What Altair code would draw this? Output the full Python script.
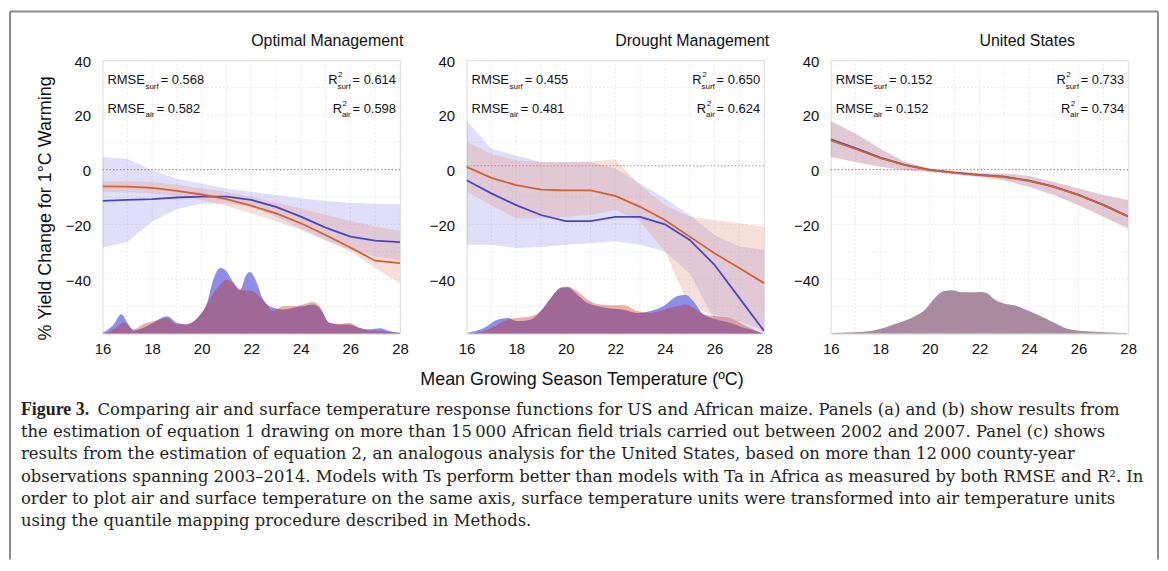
import altair as alt
import pandas as pd

# ---------------- data ----------------
X_STEPS = [16, 17, 18, 19, 20, 21, 22, 23, 24, 25, 26, 27, 28]
X_TICKS = [16, 18, 20, 22, 24, 26, 28]
Y_TICKS = [-40, -20, 0, 20, 40]
X_GRID = [16, 17, 18, 19, 20, 21, 22, 23, 24, 25, 26, 27, 28]
Y_GRID = [-50, -40, -30, -20, -10, 10, 20, 30]

PANEL_TITLES = ["Optimal Management", "Drought Management", "United States"]
ZERO_REF = [0.0, 1.4, 0.0]

RMSE_SURF = ["0.568", "0.455", "0.152"]
RMSE_AIR = ["0.582", "0.481", "0.152"]
R2_SURF = ["0.614", "0.650", "0.733"]
R2_AIR = ["0.598", "0.624", "0.734"]

# Panel a: Optimal Management
opt_blue_line = [-11.4, -11.1, -10.8, -10.2, -9.9, -9.9, -11.1, -13.6, -17.2, -21.2, -24.5, -26.0, -26.5]
opt_orange_line = [-6.1, -6.2, -6.7, -7.8, -9.1, -10.8, -13.2, -16.0, -19.6, -23.9, -28.5, -33.3, -34.2]
opt_blue_hi = [4.6, 4.0, -0.2, -3.3, -5.1, -6.9, -8.1, -9.3, -10.5, -11.5, -12.1, -12.5, -12.7]
opt_blue_lo = [-28.5, -26.5, -19.0, -14.5, -12.4, -12.4, -13.6, -17.2, -21.5, -25.7, -29.3, -31.8, -33.0]
opt_orange_hi = [-4.2, -4.3, -4.5, -5.5, -6.9, -8.2, -9.9, -12.0, -14.2, -16.5, -18.8, -20.8, -22.4]
opt_orange_lo = [-8.1, -8.3, -8.7, -9.8, -11.1, -13.3, -16.0, -18.9, -22.1, -25.9, -29.9, -36.0, -41.5]

opt_dens_blue_x = [16.0, 16.45, 16.75, 17.05, 17.25, 17.65, 18.05, 18.6, 19.0, 19.4, 19.95, 20.2, 20.45,
                   20.75, 21.0, 21.25, 21.55, 21.8, 21.95, 22.2, 22.45, 22.9, 23.3, 23.7, 24.1, 24.5,
                   24.75, 25.15, 25.55, 25.95, 26.35, 26.75, 27.2, 27.55, 28.0]
opt_dens_blue_y = [-59.6, -56.6, -52.9, -56.6, -58.8, -57.8, -56.0, -53.6, -56.0, -56.6, -53.0, -49.3, -40.8,
                   -36.0, -37.2, -40.8, -43.9, -38.4, -37.4, -40.8, -46.9, -50.5, -51.1, -50.5, -49.9, -49.3,
                   -50.5, -56.0, -56.6, -56.6, -57.8, -58.4, -58.0, -59.0, -59.6]
opt_dens_orange_x = [16.05, 16.45, 16.85, 17.25, 17.65, 18.05, 18.6, 19.0, 19.4, 19.95, 20.35, 20.75, 21.0,
                     21.25, 21.55, 21.8, 22.05, 22.45, 22.9, 23.3, 23.7, 24.1, 24.5, 24.75, 25.15, 25.55,
                     25.95, 26.35, 26.75, 27.2, 27.55, 28.0]
opt_dens_orange_y = [-60.0, -58.4, -56.0, -58.4, -56.4, -55.4, -54.2, -56.6, -56.4, -53.0, -46.9, -42.0, -40.2,
                     -41.4, -43.9, -44.2, -44.5, -47.5, -51.7, -49.9, -49.9, -49.3, -48.4, -49.9, -56.0, -56.4,
                     -56.0, -57.8, -58.8, -58.8, -59.3, -59.7]

# Panel b: Drought Management
dr_blue_line = [-3.9, -8.7, -13.0, -16.6, -18.8, -18.8, -17.3, -17.3, -20.0, -25.7, -34.8, -46.9, -59.0]
dr_orange_line = [1.0, -3.0, -5.7, -7.3, -7.6, -7.6, -9.6, -13.6, -18.4, -24.5, -30.6, -36.0, -41.5]
dr_blue_hi = [17.9, 7.6, 5.2, 2.8, 2.8, 2.8, 0.4, -5.1, -10.5, -16.6, -23.9, -28.1, -29.3]
dr_blue_lo = [-27.5, -27.5, -28.7, -28.3, -27.5, -26.9, -26.3, -27.5, -29.9, -38.0, -55.0, -65.0, -75.0]
dr_orange_hi = [10.1, 5.8, 3.4, 2.8, 2.8, 3.0, 3.8, -5.7, -13.0, -17.2, -18.4, -19.6, -20.9]
dr_orange_lo = [-8.1, -13.0, -17.8, -17.8, -17.2, -16.6, -14.8, -19.0, -29.9, -50.5, -53.0, -55.4, -59.0]

dr_dens_x = [16.05, 16.72, 17.26, 17.66, 18.06, 18.59, 18.99, 19.40, 19.80, 20.07, 20.47, 20.87, 21.27,
             21.80, 22.34, 22.88, 23.41, 23.95, 24.48, 24.82, 25.15, 25.55, 26.09, 26.62, 27.16, 27.69, 27.96]
dr_dens_blue_y = [-59.6, -57.8, -54.8, -54.2, -55.4, -54.8, -51.7, -46.9, -43.3, -43.0, -45.7, -48.7, -49.9,
                  -50.8, -51.2, -52.4, -51.7, -49.9, -46.3, -45.7, -48.1, -52.9, -54.8, -56.0, -57.8, -59.0, -60.0]
dr_dens_orange_y = [-60.0, -59.0, -56.6, -54.8, -54.2, -53.6, -51.7, -46.9, -43.0, -42.7, -44.5, -47.5, -49.1,
                    -49.6, -49.6, -51.7, -52.4, -51.2, -49.9, -49.3, -50.5, -52.9, -53.6, -54.2, -56.6, -59.0, -60.0]

# Panel c: United States
us_blue_line = [11.1, 7.9, 4.4, 1.7, -0.1, -1.1, -1.9, -2.6, -4.0, -6.2, -9.2, -12.9, -17.1]
us_orange_line = [10.7, 7.6, 4.2, 1.6, -0.2, -1.2, -2.0, -2.7, -4.1, -6.3, -9.3, -13.0, -17.2]
us_hi = [17.9, 13.1, 7.6, 2.8, 0.4, -0.6, -1.2, -1.4, -2.3, -4.5, -6.9, -9.3, -11.1]
us_lo = [4.6, 2.8, 1.0, -0.2, -0.8, -1.7, -2.7, -3.9, -6.3, -9.3, -13.0, -17.2, -21.5]
us_dens_x = [16.05, 17.26, 17.93, 18.59, 19.26, 19.80, 20.20, 20.54, 20.87, 21.27, 21.67, 22.07, 22.34,
             22.61, 23.01, 23.41, 23.95, 24.48, 25.02, 25.42, 25.95, 26.62, 27.96]
us_dens_y = [-59.7, -59.4, -58.4, -56.4, -54.2, -51.2, -46.9, -44.5, -44.1, -44.8, -44.8, -44.7, -45.4,
             -47.5, -49.0, -49.6, -51.5, -53.6, -56.0, -57.8, -58.8, -59.3, -59.7]

CAPTION_BOLD = "Figure 3."
CAPTION_LINES = [
    "Comparing air and surface temperature response functions for US and African maize. Panels (a) and (b) show results from",
    "the estimation of equation 1 drawing on more than 15\u2009000 African field trials carried out between 2002 and 2007. Panel (c) shows",
    "results from the estimation of equation 2, an analogous analysis for the United States, based on more than 12\u2009000 county-year",
    "observations spanning 2003\u20132014. Models with Ts perform better than models with Ta in Africa as measured by both RMSE and R\u00b2. In",
    "order to plot air and surface temperature on the same axis, surface temperature units were transformed into air temperature units",
    "using the quantile mapping procedure described in Methods.",
]
X_TITLE = "Mean Growing Season Temperature (\u00baC)"
Y_TITLE = "% Yield Change for 1\u00b0C Warming"

# ---------------- styling ----------------
SANS = "Liberation Sans"
SERIF = "DejaVu Serif"
W, H = 299, 275
BLUE_LINE = "#4646c4"
ORANGE_LINE = "#d4602c"
BLUE_BAND = "#5050dc"
ORANGE_BAND = "#e69682"
BLUE_DENS = "#8c8ee8"
ORANGE_DENS = "#c82300"
US_DENS = "#aa8aa0"
GRID = "#e9e9e9"
FRAME = "#7a7a7a"
TEXT = "#111111"

xscale = alt.Scale(domain=[16, 28], nice=False, zero=False)
yscale = alt.Scale(domain=[-60, 40], nice=False, zero=False)
xaxis = alt.Axis(values=X_TICKS, title=None, grid=False, ticks=False, domain=False, labelFlush=False,
                 labelFontSize=15, labelPadding=8, labelColor=TEXT, labelFont=SANS)
yaxis = alt.Axis(values=Y_TICKS, title=None, grid=False, ticks=False, domain=False, labelFlush=False,
                 labelFontSize=15, labelPadding=12, labelOffset=1, labelColor=TEXT, labelFont=SANS)


def X(f):
    return alt.X(f"{f}:Q", scale=xscale, axis=xaxis)


def Y(f):
    return alt.Y(f"{f}:Q", scale=yscale, axis=yaxis)


def label(text, x, y, size=13, align="left", weight="normal", font=SANS, angle=0, color=TEXT):
    df = pd.DataFrame({"t": [text]})
    kw = dict(align=align, baseline="middle", fontSize=size, font=font, fontWeight=weight, color=color)
    if angle:
        kw["angle"] = angle
    return alt.Chart(df).mark_text(**kw).encode(text="t:N", x=alt.value(x), y=alt.value(y))


def band(lo, hi, color, opacity):
    df = pd.DataFrame({"x": X_STEPS, "lo": lo, "hi": hi})
    return alt.Chart(df).mark_area(color=color, opacity=opacity, clip=True).encode(
        x=X("x"), y=Y("lo"), y2="hi:Q")


def line(vals, color):
    df = pd.DataFrame({"x": X_STEPS, "v": vals})
    return alt.Chart(df).mark_line(color=color, strokeWidth=1.8, clip=True).encode(x=X("x"), y=Y("v"))


def dens(xs, ys, color, opacity=1.0):
    df = pd.DataFrame({"x": xs, "v": ys})
    return alt.Chart(df).mark_area(color=color, opacity=opacity, clip=True, interpolate="monotone").encode(
        x=X("x"), y=Y("v"), y2=alt.datum(-60))


def base_layers():
    gx = alt.Chart(pd.DataFrame({"x": X_GRID})).mark_rule(
        color=GRID, strokeDash=[2, 2], strokeWidth=1).encode(x=X("x"))
    gy = alt.Chart(pd.DataFrame({"y": Y_GRID})).mark_rule(
        color=GRID, strokeDash=[2, 2], strokeWidth=1).encode(y=Y("y"))
    return [gx, gy]


def zero_line(i):
    return alt.Chart(pd.DataFrame({"y": [ZERO_REF[i]]})).mark_rule(
        color="#ee7070", strokeDash=[1.5, 2], strokeWidth=1.2).encode(y=Y("y"))


def stats(i):
    r1, r2 = 20, 49
    return [
        label("RMSE", 5, r1), label("surf", 43.2, r1 + 6.5, size=8), label("= " + RMSE_SURF[i], 58.5, r1),
        label("RMSE", 5, r2), label("air", 43.2, r2 + 6.5, size=8), label("= " + RMSE_AIR[i], 54.5, r2),
        label("= " + R2_SURF[i], 295, r1, align="right"), label("surf", 249.5, r1 + 6.5, size=8, align="right"),
        label("R", 236.3, r1, align="right"), label("2", 236.8, r1 - 5, size=8),
        label("= " + R2_AIR[i], 295, r2, align="right"), label("air", 249.5, r2 + 6.5, size=8, align="right"),
        label("R", 240.8, r2, align="right"), label("2", 241.3, r2 - 5, size=8),
        label(PANEL_TITLES[i], W / 2, -19.5, size=16),
    ]


def border_and_text():
    rules = []
    for (x1, y1, x2, y2) in [(-93, -49, 1061, -49), (-93, -49, -93, 502), (1061, -49, 1061, 502)]:
        rules.append(alt.Chart(pd.DataFrame({"t": [0]})).mark_rule(color="#8c8c8c", strokeWidth=2).encode(
            x=alt.value(x1), x2=alt.value(x2), y=alt.value(y1), y2=alt.value(y2)))
    cap = "#231f20"
    texts = [label(Y_TITLE, -57, 149, size=18, align="center", angle=270),
             label(X_TITLE, 482, 322, size=18, align="center")]
    ys = [352, 374, 396, 419, 441, 463]
    texts.append(label(CAPTION_BOLD, -82, ys[0], size=18, weight="bold", font="Liberation Serif", color=cap))
    for k, t in enumerate(CAPTION_LINES):
        texts.append(label(t, -5 if k == 0 else -82, ys[k], size=16.5, font=SERIF, color=cap))
    return rules + texts


def panel(i, bands, denss, lines, extra=()):
    return alt.layer(
        *base_layers(), *bands, zero_line(i), *denss, *lines, *stats(i), *extra
    ).properties(width=W, height=H)


p1 = panel(
    0,
    [band(opt_blue_lo, opt_blue_hi, BLUE_BAND, 0.18), band(opt_orange_lo, opt_orange_hi, ORANGE_BAND, 0.3)],
    [dens(opt_dens_blue_x, opt_dens_blue_y, BLUE_DENS), dens(opt_dens_orange_x, opt_dens_orange_y, ORANGE_DENS, 0.35)],
    [line(opt_blue_line, BLUE_LINE), line(opt_orange_line, ORANGE_LINE)],
    border_and_text(),
)
p2 = panel(
    1,
    [band(dr_blue_lo, dr_blue_hi, BLUE_BAND, 0.18), band(dr_orange_lo, dr_orange_hi, ORANGE_BAND, 0.3)],
    [dens(dr_dens_x, dr_dens_blue_y, BLUE_DENS), dens(dr_dens_x, dr_dens_orange_y, ORANGE_DENS, 0.35)],
    [line(dr_blue_line, BLUE_LINE), line(dr_orange_line, ORANGE_LINE)],
)
p3 = panel(
    2,
    [band(us_lo, us_hi, BLUE_BAND, 0.18), band(us_lo, us_hi, ORANGE_BAND, 0.3)],
    [dens(us_dens_x, us_dens_y, US_DENS)],
    [line(us_blue_line, BLUE_LINE), line(us_orange_line, ORANGE_LINE)],
)

chart = alt.hconcat(p1, p2, p3, spacing=67, bounds="flush").properties(
    padding={"left": 0, "top": 0, "right": 0, "bottom": 0}
).configure_view(stroke=FRAME, strokeWidth=2).configure(background="white")

chart.save("out.html", embed_options={"renderer": "svg", "actions": False})
